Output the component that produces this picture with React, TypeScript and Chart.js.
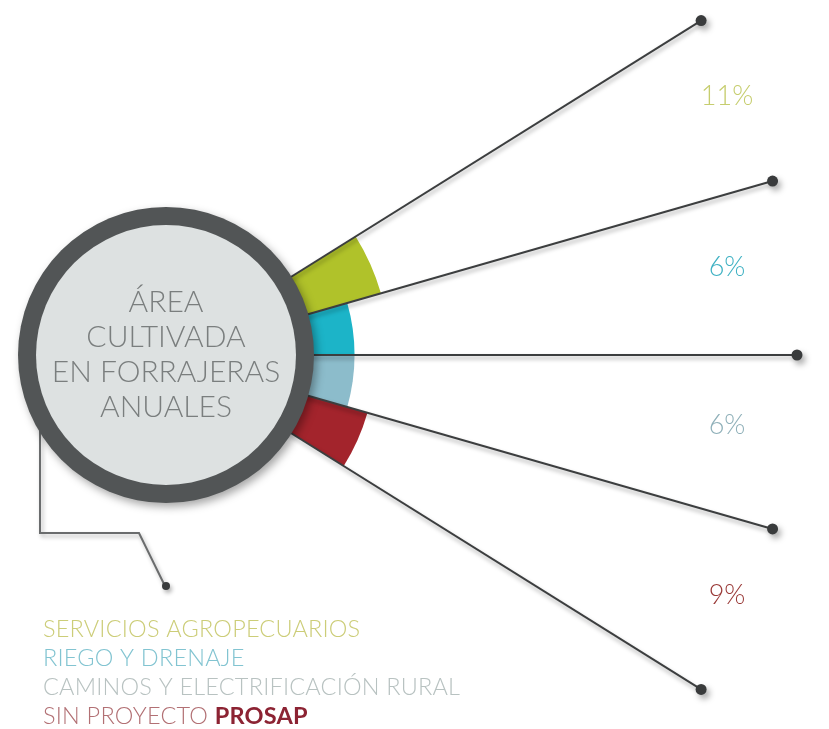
import React, { useEffect, useRef } from "react";
import { Chart, registerables } from "chart.js";

Chart.register(...registerables);

// ---- data ----
const categories = ["SERVICIOS AGROPECUARIOS", "RIEGO Y DRENAJE", "CAMINOS Y ELECTRIFICACIÓN RURAL", "SIN PROYECTO"];
const categoryBold = ["", "", "", "PROSAP"];
const values = [11, 6, 6, 9];
const valueLabels = ["11%", "6%", "6%", "9%"];
const centerTitle = ["ÁREA", "CULTIVADA", "EN FORRAJERAS", "ANUALES"];

// ---- styles ----
const segmentColors = ["#b0c22a", "#1cb4c8", "#8cbccb", "#a3242c"];
const labelColors = ["#c6cd6e", "#3fb1c3", "#8fb0b9", "#9a3a38"];
const legendColors = ["#cccd78", "#82c4d1", "#b8c2c1", "#b27074"];
const boldColor = "#8c2333";
const FONT = "Lato, 'Open Sans', 'DejaVu Sans', sans-serif";

const W = 829;
const H = 729;
const CX = 166;
const CY = 355;
const AREA = 150;
const RING_R = 148;
const RING_W = 18;
const SPOKE_R = 631;

const overlay = {
  id: "overlay",
  afterDatasetsDraw(chart: any) {
    const ctx: any = chart.ctx;
    const scale = chart.scales.r;
    const cx = scale.xCenter;
    const cy = scale.yCenter;
    const meta = chart.getDatasetMeta(0);
    const bounds: number[] = [];
    meta.data.forEach((arc: any, i: number) => {
      if (i === 0) bounds.push(arc.startAngle);
      bounds.push(arc.endAngle);
    });

    // spokes
    ctx.save();
    ctx.strokeStyle = "#3c3e3f";
    ctx.lineWidth = 2;
    ctx.shadowColor = "rgba(0,0,0,0.35)";
    ctx.shadowBlur = 4;
    ctx.shadowOffsetY = 3;
    ctx.shadowOffsetX = 1;
    bounds.forEach((a) => {
      ctx.beginPath();
      ctx.moveTo(cx, cy);
      ctx.lineTo(cx + SPOKE_R * Math.cos(a), cy + SPOKE_R * Math.sin(a));
      ctx.stroke();
    });
    ctx.fillStyle = "#393b3c";
    ctx.shadowBlur = 6;
    ctx.shadowOffsetY = 4;
    ctx.shadowOffsetX = 3;
    bounds.forEach((a) => {
      ctx.beginPath();
      ctx.arc(cx + SPOKE_R * Math.cos(a), cy + SPOKE_R * Math.sin(a), 5.5, 0, Math.PI * 2);
      ctx.fill();
    });
    ctx.restore();

    // bracket pointing to legend
    ctx.save();
    ctx.strokeStyle = "#6a6c6d";
    ctx.lineWidth = 2;
    ctx.shadowColor = "rgba(0,0,0,0.3)";
    ctx.shadowBlur = 4;
    ctx.shadowOffsetY = 3;
    ctx.shadowOffsetX = 2;
    ctx.beginPath();
    ctx.moveTo(cx - 126, cy + 60);
    ctx.lineTo(cx - 126, cy + 178);
    ctx.lineTo(cx - 27, cy + 178);
    ctx.lineTo(cx - 2, cy + 229);
    ctx.stroke();
    ctx.fillStyle = "#3a3c3d";
    ctx.beginPath();
    ctx.arc(cx, cy + 231, 4, 0, Math.PI * 2);
    ctx.fill();
    ctx.restore();

    // big circle
    ctx.save();
    ctx.shadowColor = "rgba(0,0,0,0.35)";
    ctx.shadowBlur = 8;
    ctx.shadowOffsetX = 3;
    ctx.shadowOffsetY = 4;
    ctx.fillStyle = "#525556";
    ctx.beginPath();
    ctx.arc(cx, cy, RING_R, 0, Math.PI * 2);
    ctx.fill();
    ctx.restore();
    ctx.save();
    ctx.fillStyle = "#dde1e1";
    ctx.beginPath();
    ctx.arc(cx, cy, RING_R - RING_W, 0, Math.PI * 2);
    ctx.fill();
    ctx.restore();

    // center title
    ctx.save();
    ctx.fillStyle = "#7a7e7e";
    ctx.font = `300 30px ${FONT}`;
    ctx.textAlign = "center";
    ctx.textBaseline = "middle";
    centerTitle.forEach((t, i) => {
      ctx.fillText(t, cx, cy - 53 + i * 35);
    });
    ctx.restore();

    // value labels
    ctx.save();
    ctx.font = `300 27px ${FONT}`;
    ctx.textAlign = "center";
    ctx.textBaseline = "middle";
    meta.data.forEach((arc: any, i: number) => {
      const mid = (arc.startAngle + arc.endAngle) / 2;
      ctx.fillStyle = labelColors[i];
      ctx.fillText(valueLabels[i], cx + 561, cy - 9 + 561 * Math.tan(mid));
    });
    ctx.restore();

    // legend
    ctx.save();
    ctx.textAlign = "left";
    ctx.textBaseline = "middle";
    ctx.letterSpacing = "0.2px";
    categories.forEach((c, i) => {
      const y = 629 + i * 29.3;
      ctx.font = `300 23.5px ${FONT}`;
      ctx.fillStyle = legendColors[i];
      const text = categoryBold[i] ? c + " " : c;
      ctx.fillText(text, 43, y);
      if (categoryBold[i]) {
        const w = ctx.measureText(text).width;
        ctx.font = `700 23.5px ${FONT}`;
        ctx.fillStyle = boldColor;
        ctx.fillText(categoryBold[i], 43 + w, y);
      }
    });
    ctx.restore();
  },
};

export default function App() {
  const ref = useRef<HTMLCanvasElement | null>(null);
  useEffect(() => {
    if (!ref.current) return;
    const chart = new Chart(ref.current, {
      type: "polarArea",
      data: {
        labels: categories,
        datasets: [
          {
            data: values,
            backgroundColor: segmentColors,
            borderWidth: 0,
            angle: 16,
          } as any,
        ],
      },
      options: {
        responsive: false,
        animation: false,
        devicePixelRatio: 1,
        layout: {
          padding: { left: CX - AREA, top: CY - AREA, right: W - CX - AREA, bottom: H - CY - AREA },
        },
        scales: {
          r: {
            min: -20.9,
            max: 0.5,
            startAngle: 58,
            ticks: { display: false },
            grid: { display: false },
            angleLines: { display: false },
            pointLabels: { display: false },
          },
        },
        plugins: {
          legend: { display: false },
          tooltip: { enabled: false },
        },
      } as any,
      plugins: [overlay],
    });
    return () => chart.destroy();
  }, []);
  return (
    <div style={{ position: "absolute", left: 0, top: 0, width: W, height: H, background: "#fff" }}>
      <canvas ref={ref} width={W} height={H} style={{ width: W, height: H, display: "block" }} />
    </div>
  );
}
